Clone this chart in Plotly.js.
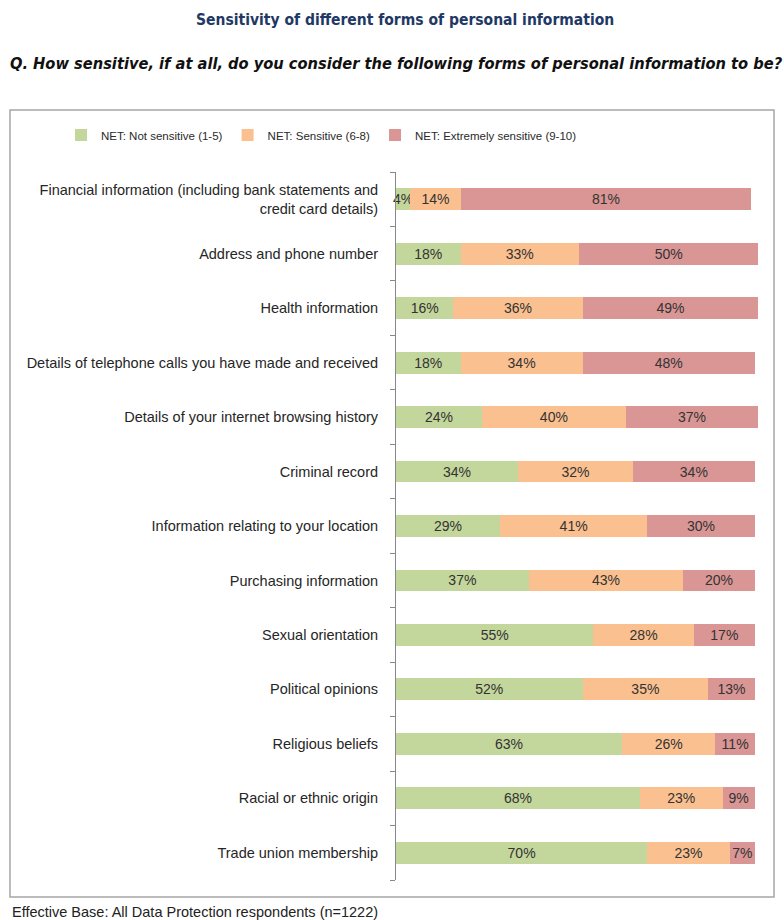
<!DOCTYPE html>
<html>
<head>
<meta charset="utf-8">
<script src="https://cdn.plot.ly/plotly-3.0.1.min.js"></script>
<style>html,body{margin:0;padding:0;background:#fff;}#chart{width:784px;height:920px;}</style>
</head>
<body>
<div id="chart"></div>
<script>
const categories = [
  "Financial information (including bank statements and<br>credit card details)",
  "Address and phone number",
  "Health information",
  "Details of telephone calls you have made and received",
  "Details of your internet browsing history",
  "Criminal record",
  "Information relating to your location",
  "Purchasing information",
  "Sexual orientation",
  "Political opinions",
  "Religious beliefs",
  "Racial or ethnic origin",
  "Trade union membership"
];
const notSensitive = [4, 18, 16, 18, 24, 34, 29, 37, 55, 52, 63, 68, 70];
const sensitive = [14, 33, 36, 34, 40, 32, 41, 43, 28, 35, 26, 23, 23];
const extremely = [81, 50, 49, 48, 37, 34, 30, 20, 17, 13, 11, 9, 7];
const seriesNames = ["NET: Not sensitive (1-5)", "NET: Sensitive (6-8)", "NET: Extremely sensitive (9-10)"];
const title = "Sensitivity of different forms of personal information";
const subtitle = "Q. How sensitive, if at all, do you consider the following forms of personal information to be?";
const footnote = "Effective Base: All Data Protection respondents (n=1222)";

const colors = ["#c3d69b", "#fac090", "#d99694"];
const idx = categories.map((_, i) => i);
const W = 784, H = 920;
const xMax = 102;
const m = {l: 396, r: 784 - 396 - Math.round(359 * xMax / 100), t: 172, b: 40};
const pw = W - m.l - m.r, ph = H - m.t - m.b;
const px = x => (x - m.l) / pw;
const py = y => (H - m.b - y) / ph;

const narrow = "DejaVu Sans Condensed, Liberation Sans Narrow, sans-serif";
const arial = "Liberation Sans, Arial, sans-serif";

const traces = [notSensitive, sensitive, extremely].map((vals, k) => ({
  type: "bar",
  orientation: "h",
  name: seriesNames[k],
  x: vals,
  y: idx,
  text: vals.map(v => v + "%"),
  textposition: "inside",
  insidetextanchor: "middle",
  textangle: 0,
  constraintext: "none",
  cliponaxis: false,
  textfont: {family: arial, size: 14, color: "#333333"},
  marker: {color: colors[k], line: {width: 0}},
  hoverinfo: "skip"
}));
// invisible trace to carry boundary tick marks on a second y axis
traces.push({type: "scatter", x: [null], y: [null], yaxis: "y2", showlegend: false, hoverinfo: "skip"});

const bounds = [];
for (let i = -0.5; i <= categories.length - 0.5; i += 1) bounds.push(i);

const layout = {
  width: W, height: H,
  margin: m,
  paper_bgcolor: "#ffffff",
  plot_bgcolor: "#ffffff",
  barmode: "stack",
  bargap: 0.6,
  showlegend: true,
  uniformtext: {mode: "show", minsize: 14},
  legend: {
    orientation: "h",
    x: px(61), xanchor: "left",
    y: py(135), yanchor: "middle",
    font: {family: arial, size: 11.5, color: "#2a2a2a"},
    traceorder: "normal",
    itemwidth: 30
  },
  xaxis: {
    range: [0, xMax],
    showgrid: false, zeroline: false, showline: false,
    showticklabels: false, ticks: "", fixedrange: true
  },
  yaxis: {
    range: [categories.length - 0.5, -0.5],
    tickvals: idx,
    ticktext: categories,
    ticks: "",
    showgrid: false, zeroline: false,
    showline: true, linecolor: "#888888", linewidth: 1,
    tickfont: {family: arial, size: 14.5, color: "#262626"},
    ticklabelstandoff: 14,
    fixedrange: true
  },
  yaxis2: {
    overlaying: "y",
    side: "left",
    range: [categories.length - 0.5, -0.5],
    tickvals: bounds,
    ticks: "outside", ticklen: 5, tickcolor: "#888888", tickwidth: 1,
    showticklabels: false, showgrid: false, zeroline: false, showline: false,
    fixedrange: true
  },
  shapes: [{
    type: "rect", xref: "paper", yref: "paper",
    x0: px(10), x1: px(774), y0: py(897), y1: py(110),
    line: {color: "#a6a6a6", width: 1.5}, fillcolor: "rgba(0,0,0,0)", layer: "below"
  }],
  annotations: [
    {text: "<b>" + title + "</b>", xref: "paper", yref: "paper", x: px(405), y: py(20),
     xanchor: "center", yanchor: "middle", showarrow: false,
     font: {family: narrow, size: 15.5, color: "#1f3864"}},
    {text: "<b><i>" + subtitle + "</i></b>", xref: "paper", yref: "paper", x: px(8), y: py(64),
     xanchor: "left", yanchor: "middle", showarrow: false,
     font: {family: narrow, size: 16.3, color: "#111111"}},
    {text: footnote, xref: "paper", yref: "paper", x: px(10), y: py(912),
     xanchor: "left", yanchor: "middle", showarrow: false,
     font: {family: arial, size: 14.5, color: "#222222"}}
  ]
};

Plotly.newPlot("chart", traces, layout, {displayModeBar: false, staticPlot: true});
</script>
</body>
</html>
